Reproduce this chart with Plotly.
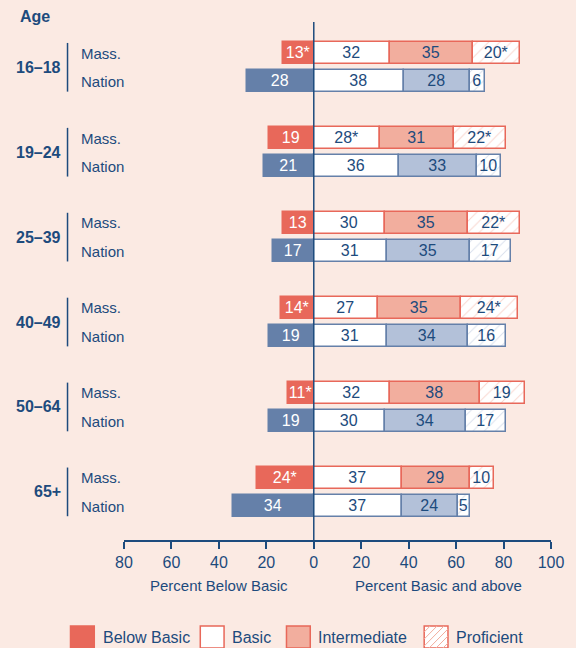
import plotly.graph_objects as go

ages = ["16–18", "19–24", "25–39", "40–49", "50–64", "65+"]

mass_below = [13, 19, 13, 14, 11, 24]
mass_basic = [32, 28, 30, 27, 32, 37]
mass_inter = [35, 31, 35, 35, 38, 29]
mass_prof = [20, 22, 22, 24, 19, 10]

# 1 = significant difference from the nation (shown with *)
mass_below_sig = [1, 0, 0, 1, 1, 1]
mass_basic_sig = [0, 1, 0, 0, 0, 0]
mass_inter_sig = [0, 0, 0, 0, 0, 0]
mass_prof_sig = [1, 1, 1, 1, 0, 0]

nation_below = [28, 21, 17, 19, 19, 34]
nation_basic = [38, 36, 31, 31, 30, 37]
nation_inter = [28, 33, 35, 34, 34, 24]
nation_prof = [6, 10, 17, 16, 17, 5]

tick_vals = [-80, -60, -40, -20, 0, 20, 40, 60, 80, 100]

BG = "#fbeae3"
BLUE_TXT = "#1d4b7d"
RED = "#e8685a"
RED_LT = "#f2ae9e"
NAV = "#6580a9"
NAV_LT = "#b3c1d9"
FONT = "Liberation Sans, Arial, sans-serif"
FS = 15

W, H = 576, 648
L, R, T, B = 124, 21, 22, 108
PW, PH = W - L - R, H - T - B
Y_RANGE = [17.2, -1.1]


def pxx(px):
    return (px - L) / PW


def pxy(py):
    return 1 - (py - T) / PH


def yp(y):
    return (Y_RANGE[0] - y) / (Y_RANGE[0] - Y_RANGE[1])


def labels(vals, sig):
    return [f"{v}*" if s else f"{v}" for v, s in zip(vals, sig)]


y_mass = [3 * i for i in range(len(ages))]
y_nat = [3 * i + 1 for i in range(len(ages))]

fig = go.Figure()

series = [
    ("Below Basic", mass_below, mass_below_sig, nation_below, RED, NAV, "white", True, ""),
    ("Basic", mass_basic, mass_basic_sig, nation_basic, "white", "white", BLUE_TXT, False, ""),
    ("Intermediate", mass_inter, mass_inter_sig, nation_inter, RED_LT, NAV_LT, BLUE_TXT, False, ""),
    ("Proficient", mass_prof, mass_prof_sig, nation_prof, "white", "white", BLUE_TXT, False, "/"),
]

for name, mv, msig, nv, mcol, ncol, tcol, neg, pat in series:
    sign = -1 if neg else 1
    for yy, vals, txt, col, edge, light in [
        (y_mass, mv, labels(mv, msig), mcol, RED, RED_LT),
        (y_nat, nv, [str(v) for v in nv], ncol, NAV, NAV_LT),
    ]:
        marker = dict(color=col, line=dict(color=edge, width=1.5))
        if pat:
            marker["pattern"] = dict(shape=pat, fgcolor=light, bgcolor="white",
                                     size=8, solidity=0.12)
        fig.add_trace(go.Bar(
            y=yy, x=[sign * v for v in vals], orientation="h", width=0.78,
            marker=marker, text=txt, textposition="inside",
            insidetextanchor="middle", textangle=0,
            textfont=dict(color=tcol, size=FS + 1, family=FONT),
            name=name, showlegend=False, hoverinfo="skip",
        ))

annotations = [
    dict(text="<b>Age</b>", xref="paper", yref="paper", x=pxx(17), y=pxy(17),
         xanchor="left", yanchor="middle", showarrow=False, font=dict(size=FS + 1)),
    dict(text="Percent Below Basic", xref="x", yref="paper", x=-40, y=pxy(585),
         xanchor="center", yanchor="middle", showarrow=False),
    dict(text="Percent Basic and above", xref="x", yref="paper", x=52.5, y=pxy(585),
         xanchor="center", yanchor="middle", showarrow=False),
]
shapes = [
    dict(type="line", xref="x", yref="paper", x0=0, x1=0, y0=0, y1=1,
         line=dict(color=BLUE_TXT, width=1.5), layer="above"),
]

for i, age in enumerate(ages):
    annotations.append(dict(text=f"<b>{age}</b>", xref="paper", yref="y", x=pxx(62),
                            y=y_mass[i] + 0.5, xanchor="right", yanchor="middle",
                            showarrow=False, font=dict(size=FS + 1)))
    annotations.append(dict(text="Mass.", xref="paper", yref="y", x=pxx(79), y=y_mass[i],
                            xanchor="left", yanchor="middle", showarrow=False))
    annotations.append(dict(text="Nation", xref="paper", yref="y", x=pxx(79), y=y_nat[i],
                            xanchor="left", yanchor="middle", showarrow=False))
    shapes.append(dict(type="line", xref="paper", yref="paper", x0=pxx(67), x1=pxx(67),
                       y0=yp(y_mass[i] - 0.36), y1=yp(y_nat[i] + 0.36),
                       line=dict(color=BLUE_TXT, width=1.5)))

# legend drawn by hand so the swatches match the original size
legend_items = [
    ("Below Basic", RED, 70, 101, False),
    ("Basic", "white", 201, 231, False),
    ("Intermediate", RED_LT, 288, 318, False),
    ("Proficient", "white", 427, 457, True),
]
sy0, sy1 = 626, 648
for text, fill, sx, tx, hatch in legend_items:
    sx1 = sx + 24
    shapes.append(dict(type="rect", xref="paper", yref="paper",
                       x0=pxx(sx), x1=pxx(sx1), y0=pxy(sy1), y1=pxy(sy0),
                       fillcolor=fill, line=dict(color=RED, width=1.5)))
    if hatch:
        c = sx + sy0 + 6
        while c < sx1 + sy1:
            xa = max(sx, c - sy1)
            xb = min(sx1, c - sy0)
            shapes.append(dict(type="line", xref="paper", yref="paper",
                               x0=pxx(xa), y0=pxy(c - xa), x1=pxx(xb), y1=pxy(c - xb),
                               line=dict(color=RED_LT, width=1)))
            c += 7
    annotations.append(dict(text=text, xref="paper", yref="paper", x=pxx(tx), y=pxy(637),
                            xanchor="left", yanchor="middle", showarrow=False,
                            font=dict(size=FS + 1)))

fig.update_layout(
    width=W, height=H,
    margin=dict(l=L, r=R, t=T, b=B),
    paper_bgcolor=BG, plot_bgcolor=BG,
    barmode="relative", bargap=0,
    font=dict(family=FONT, color=BLUE_TXT, size=FS),
    uniformtext=dict(minsize=FS + 1, mode="show"),
    showlegend=False,
    annotations=annotations,
    shapes=shapes,
    xaxis=dict(range=[-80, 100], tickvals=tick_vals,
               ticktext=[str(abs(v)) for v in tick_vals],
               showgrid=False, zeroline=False, showline=True, linecolor=BLUE_TXT,
               linewidth=1.5, ticks="outside", ticklen=7, tickwidth=1.5,
               tickcolor=BLUE_TXT, tickfont=dict(size=FS + 1)),
    yaxis=dict(range=Y_RANGE, showticklabels=False, showgrid=False, zeroline=False,
               fixedrange=True),
)

fig.write_html("out.html", config={"displayModeBar": False},
               post_script="document.body.style.margin='0';")
